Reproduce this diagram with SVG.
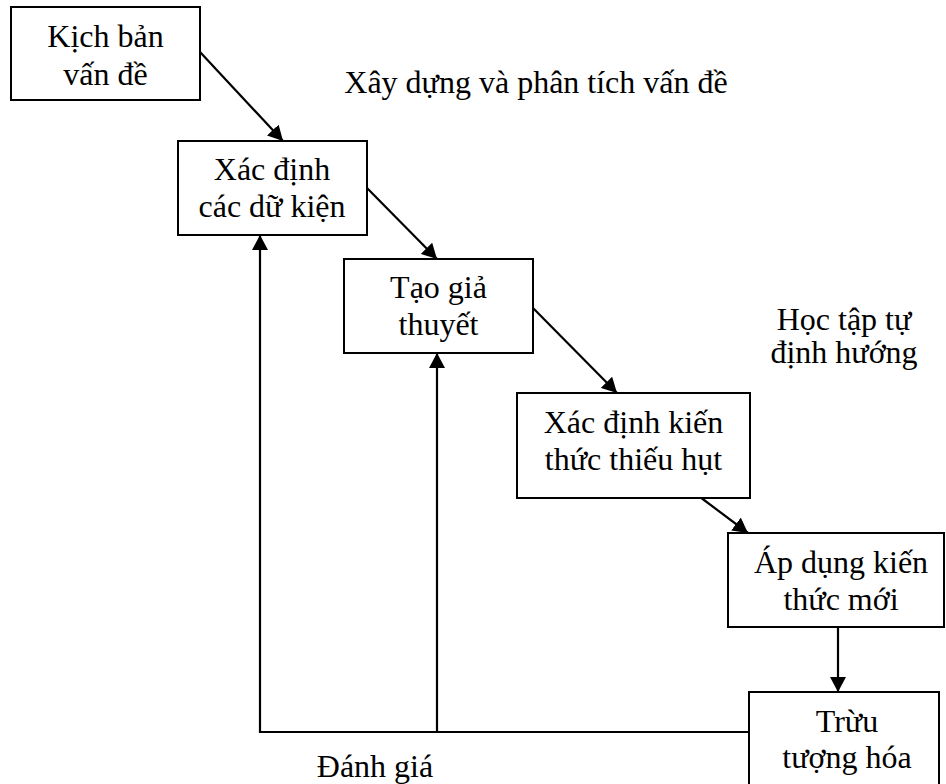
<svg xmlns="http://www.w3.org/2000/svg" width="946" height="784" viewBox="0 0 946 784">
  <defs>
    <marker id="arrow" markerUnits="userSpaceOnUse" markerWidth="16" markerHeight="16" refX="15" refY="8" orient="auto">
      <path d="M0,0 L15,8 L0,16 z" fill="#000"/>
    </marker>
    <style>
      .box { fill: #fff; stroke: #000; stroke-width: 2; }
      .lbl { font-family: "Liberation Serif", "Times New Roman", serif; font-size: 32px; fill: #000; text-anchor: middle; }
      .edge { fill: none; stroke: #000; stroke-width: 2.2; }
    </style>
  </defs>
  <rect width="946" height="784" fill="#fff"/>

  <!-- connectors -->
  <g id="connectors">
    <line class="edge" x1="200" y1="52" x2="283" y2="141" marker-end="url(#arrow)"/>
    <line class="edge" x1="367" y1="188" x2="437" y2="259" marker-end="url(#arrow)"/>
    <line class="edge" x1="533" y1="308" x2="617" y2="393" marker-end="url(#arrow)"/>
    <line class="edge" x1="700" y1="497" x2="748" y2="533" marker-end="url(#arrow)"/>
    <line class="edge" x1="838" y1="627" x2="838" y2="692" marker-end="url(#arrow)"/>
    <polyline class="edge" points="749,732 260,732 260,235" marker-end="url(#arrow)"/>
    <line class="edge" x1="437" y1="732" x2="437" y2="353" marker-end="url(#arrow)"/>
  </g>

  <g id="kich-ban">
    <rect class="box" x="11" y="7" width="189" height="93"/>
    <text class="lbl" x="105.5" y="47">Kịch bản</text>
    <text class="lbl" x="105.5" y="85">vấn đề</text>
  </g>

  <g id="xac-dinh-du-kien">
    <rect class="box" x="178" y="141" width="189" height="94"/>
    <text class="lbl" x="272" y="180">Xác định</text>
    <text class="lbl" x="272" y="217">các dữ kiện</text>
  </g>

  <g id="tao-gia-thuyet">
    <rect class="box" x="344" y="259" width="189" height="94"/>
    <text class="lbl" x="438.5" y="298">Tạo giả</text>
    <text class="lbl" x="438.5" y="335">thuyết</text>
  </g>

  <g id="kien-thuc-thieu-hut">
    <rect class="box" x="517" y="393" width="233" height="105"/>
    <text class="lbl" x="633.5" y="433">Xác định kiến</text>
    <text class="lbl" x="633.5" y="470">thức thiếu hụt</text>
  </g>

  <g id="ap-dung">
    <rect class="box" x="728" y="533" width="216" height="94"/>
    <text class="lbl" x="841" y="573">Áp dụng kiến</text>
    <text class="lbl" x="841" y="610">thức mới</text>
  </g>

  <g id="truu-tuong-hoa">
    <rect class="box" x="749" y="692" width="190" height="100"/>
    <text class="lbl" x="847" y="732">Trừu</text>
    <text class="lbl" x="847" y="768">tượng hóa</text>
  </g>

  <!-- free-standing phase labels -->
  <g id="phase-labels">
    <text class="lbl" x="536" y="93">Xây dựng và phân tích vấn đề</text>
    <text class="lbl" x="844" y="330">Học tập tự</text>
    <text class="lbl" x="844" y="363">định hướng</text>
    <text class="lbl" x="375" y="777">Đánh giá</text>
  </g>
</svg>
